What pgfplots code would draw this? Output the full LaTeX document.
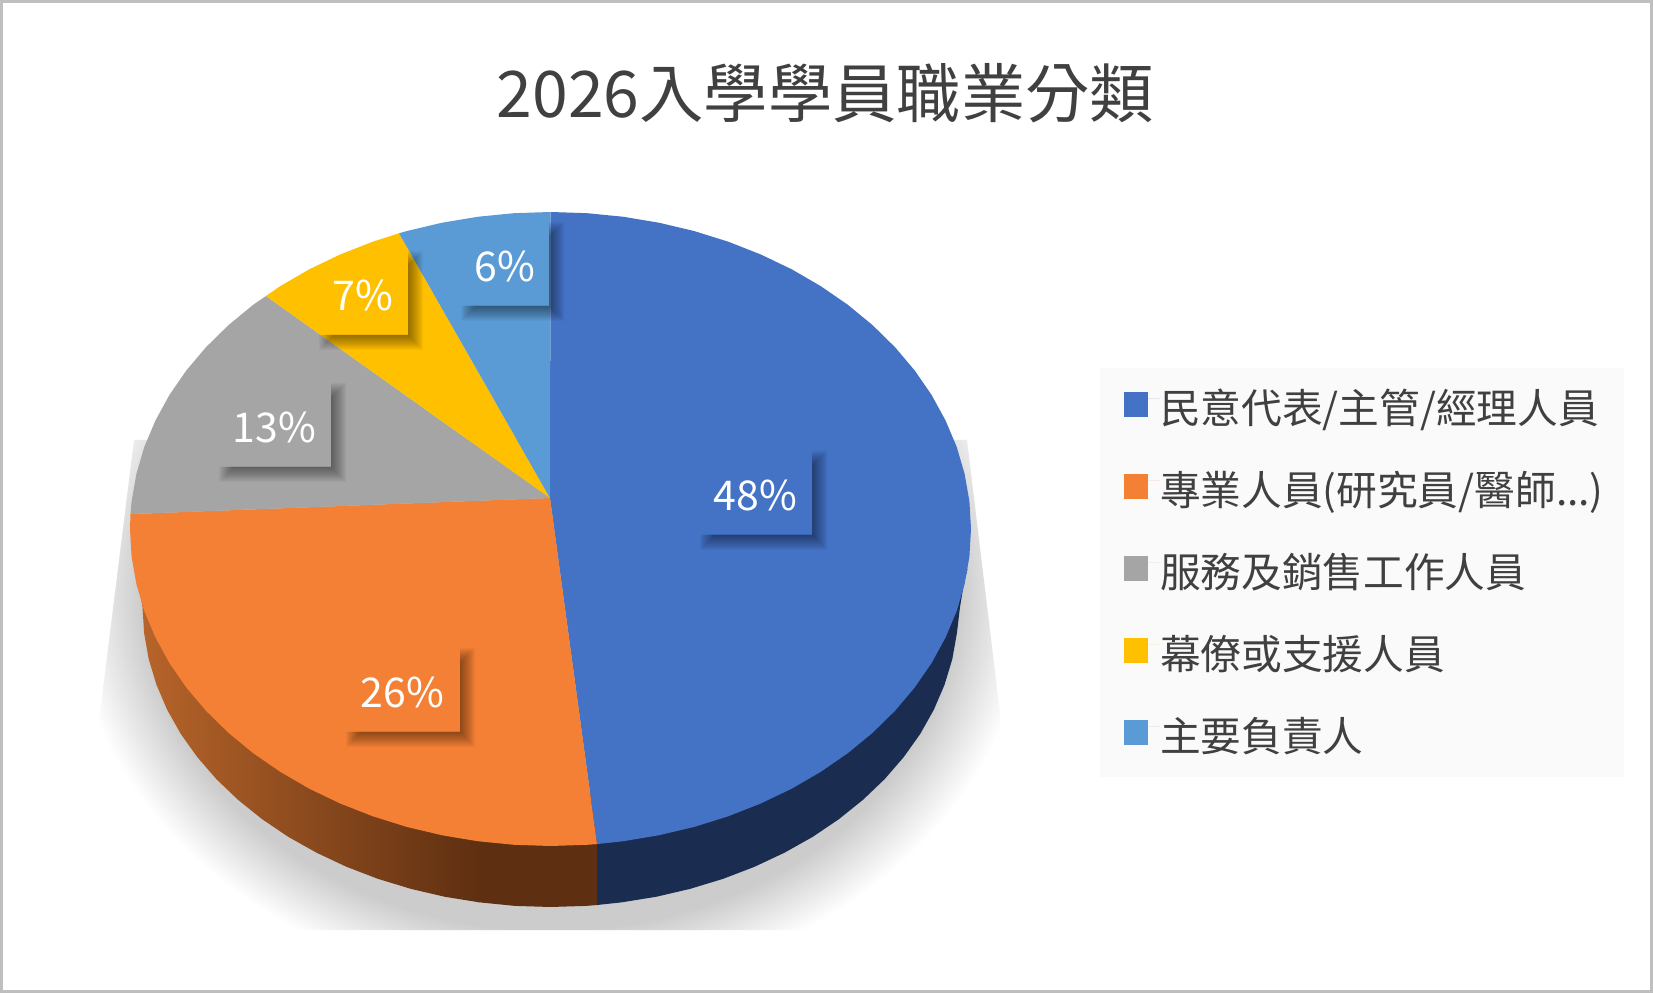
\documentclass[border=0pt]{standalone}
\usepackage{pgfplots}
\pgfplotsset{compat=1.18}
\usepackage{fontspec}
\setmainfont{Noto Sans CJK TC}
\definecolor{cBlue}{HTML}{4472C4}
\definecolor{cOrange}{HTML}{F38034}
\definecolor{cGray}{HTML}{A5A5A5}
\definecolor{cYellow}{HTML}{FFC000}
\definecolor{cLight}{HTML}{5B9BD5}
\definecolor{cNavy}{HTML}{1A2C50}
\definecolor{cBrownA}{HTML}{B8652A}
\definecolor{cBrownB}{HTML}{5E2F11}
\definecolor{cText}{HTML}{404040}
\pgfdeclareradialshading{pieshadow}{\pgfpointorigin}{rgb(0bp)=(0.8,0.8,0.8); rgb(21.25bp)=(0.8,0.8,0.8); rgb(25bp)=(1,1,1); rgb(50bp)=(1,1,1)}
% label box: x0, y-bottom, x1, y-top, text
\newcommand{\lab}[5]{%
  \foreach \b in {-7,-6,...,7}{%
    \fill[black,opacity=0.03] ({#3},{#4-8+\b}) -- ({#3+8+\b},{#4-8+\b}) -- ({#3+8+\b},{#2-8-\b}) -- ({#1+8-\b},{#2-8-\b}) -- ({#1+8-\b},{#2}) -- ({#3},{#2}) -- cycle;
  }%
  \node[text=white,inner sep=0pt,font=\fontsize{41}{48}\selectfont] at ({(#1+#3)/2},{(#2+#4)/2-3}) {#5};
}
\newcommand{\st}{\rule[-17.5pt]{0pt}{69pt}}
\begin{document}
\begin{tikzpicture}
\begin{scope}[x=1pt,y=1pt]
  \path[use as bounding box] (0,0) rectangle (1653,993);
  \fill[white] (0,0) rectangle (1653,993);
  \draw[color=black!25,line width=3pt] (1.5,1.5) rectangle (1651.5,991.5);
  \begin{scope}
    \clip (134,553) -- (967,553) -- (1000,280) -- (1010,63) -- (90,63) -- (100,280) -- cycle;
    \shade[shading=pieshadow] (550.5,403) ellipse [x radius=480pt, y radius=400pt];
  \end{scope}
  \fill[color=black!2] (1100,216) rectangle (1624,625);
\end{scope}
\begin{axis}[
  at={(0pt,0pt)},anchor=south west,
  x=1pt,y=1pt,xmin=0,xmax=1653,ymin=0,ymax=993,
  hide axis,clip=false,
  legend style={at={(axis cs:1124,620.5)},anchor=north west,draw=none,fill=none,inner sep=0pt,outer sep=0pt,
    row sep=29pt,font=\fontsize{40.7}{48}\selectfont,text=cText,
    nodes={inner sep=0pt,outer sep=0pt}},
  legend cell align=left,
  legend image code/.code={\fill[#1] (0pt,-18.5pt) rectangle (24pt,6.5pt);\path (0pt,0pt) -- (36pt,0pt);},
]
% side of the disc: gradient part, dark part, navy part
\addplot[forget plot,draw=none,left color=cBrownA,right color=cBrownB] coordinates {
(137,416)(142.5,386)(144.1,359.9)(148.7,333.9)(156.4,308.4)(167.1,283.4)(180.7,259.2)(197.2,236)(216.3,213.9)(238,193.2)(262,173.9)(288.2,156.2)(316.5,140.3)(346.5,126.2)(378.1,114.1)(411,104.1)(444.9,96.2)(479.7,90.6)(479.7,300)} -- cycle;
\addplot[forget plot,draw=none,fill=cBrownB] coordinates {
(479,90.7)(514.9,87.1)(550.5,86)(586.1,87.1)(597.5,88)(597.5,200)(479,200)} -- cycle;
\addplot[forget plot,draw=none,fill=cNavy] coordinates {
(597,88)(621.3,90.6)(656.1,96.2)(690,104.1)(722.9,114.1)(754.5,126.2)(784.5,140.3)(812.8,156.2)(839,173.9)(863,193.2)(884.7,213.9)(903.8,236)(920.3,259.2)(933.9,283.4)(944.6,308.4)(952.3,333.9)(956.9,359.9)(960,386)(964,410)(967.5,424)(597,300)} -- cycle;
% top face: 48 %
\addplot[draw=none,fill=cBlue] coordinates {
(550,495)(550.5,781)(587.1,779.8)(623.5,776.2)(659.3,770.2)(694.3,761.9)(728.2,751.3)(760.8,738.5)(791.7,723.7)(820.8,706.8)(847.8,688.2)(872.6,667.8)(895,645.8)(914.7,622.5)(931.6,598)(945.6,572.4)(956.7,546.1)(964.6,519.1)(969.4,491.6)(971,464)(969.4,436.4)(964.6,408.9)(956.7,381.9)(945.6,355.6)(931.6,330)(914.7,305.5)(895,282.2)(872.6,260.2)(847.8,239.8)(820.8,221.2)(791.7,204.3)(760.8,189.5)(728.2,176.7)(694.3,166.1)(659.3,157.8)(623.5,151.8)(597,148.9)} -- cycle;
\addlegendentry{\st 民意代表/主管/經理人員}
% 26 %
\addplot[draw=none,fill=cOrange] coordinates {
(550,495)(597,148.9)(587.1,148.2)(550.5,147)(513.9,148.2)(477.5,151.8)(441.7,157.8)(406.7,166.1)(372.8,176.7)(340.2,189.5)(309.3,204.3)(280.2,221.2)(253.2,239.8)(228.4,260.2)(206,282.2)(186.3,305.5)(169.4,330)(155.4,355.6)(144.3,381.9)(136.4,408.9)(131.6,436.4)(130,464)(130.5,478.9)} -- cycle;
\addlegendentry{\st 專業人員(研究員/醫師...)}
% 13 %
\addplot[draw=none,fill=cGray] coordinates {
(550,495)(130.5,478.9)(131.6,491.6)(136.4,519.1)(144.3,546.1)(155.4,572.4)(169.4,598)(186.3,622.5)(206,645.8)(228.4,667.8)(253.2,688.2)(266,697)} -- cycle;
\addlegendentry{\st 服務及銷售工作人員}
% 7 %
\addplot[draw=none,fill=cYellow] coordinates {
(550,495)(266,697)(280.2,706.8)(309.3,723.7)(340.2,738.5)(372.8,751.3)(399,759.7)} -- cycle;
\addlegendentry{\st 幕僚或支援人員}
% 6 %
\addplot[draw=none,fill=cLight] coordinates {
(550,495)(399,759.7)(406.7,761.9)(441.7,770.2)(477.5,776.2)(513.9,779.8)(550.5,781)} -- cycle;
\addlegendentry{\st 主要負責人}
\end{axis}
\begin{scope}[x=1pt,y=1pt]
  \lab{699}{458}{812}{543}{48\%}
  \lab{345}{261}{460}{346}{26\%}
  \lab{218}{526}{331}{611}{13\%}
  \lab{318}{658}{408}{743}{7\%}
  \lab{460}{687}{549}{772}{6\%}
  \node[anchor=base,inner sep=0pt,text=cText,font=\fontsize{64.3}{72}\selectfont] at (825.5,875) {2026入學學員職業分類};
\end{scope}
\end{tikzpicture}
\end{document}
